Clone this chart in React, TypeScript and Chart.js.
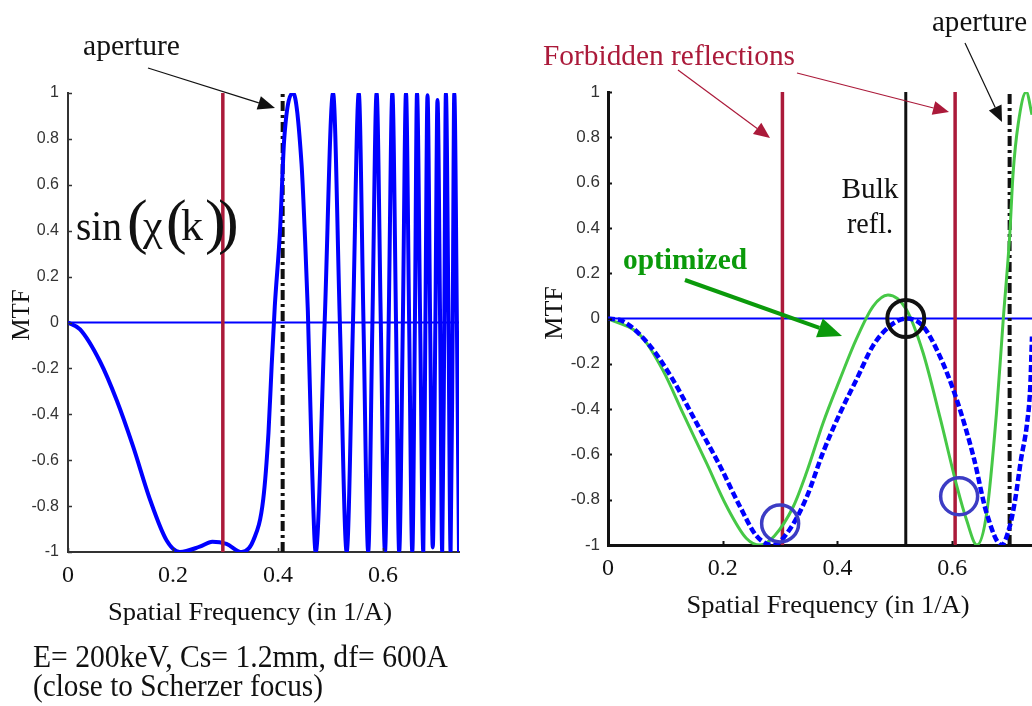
import React, { useEffect, useRef } from "react";
import { Chart, registerables } from "chart.js";

Chart.register(...registerables);

const SERIF = '"Liberation Serif", "Times New Roman", serif';
const SANS = '"Liberation Sans", Arial, sans-serif';

// Axis ticks
const freqTicks = [0, 0.2, 0.4, 0.6];
const freqTickLabels = ["0", "0.2", "0.4", "0.6"];
const mtfTicks = [-1, -0.8, -0.6, -0.4, -0.2, 0, 0.2, 0.4, 0.6, 0.8, 1];
const mtfTickLabels = ["-1", "-0.8", "-0.6", "-0.4", "-0.2", "0", "0.2", "0.4", "0.6", "0.8", "1"];

// Left panel: sin(chi(k)) close to Scherzer focus
const scherzerFreq = [
  0, 0.023, 0.061, 0.093, 0.124, 0.156, 0.188, 0.213, 0.251, 0.275, 0.302, 0.331,
  0.353, 0.372, 0.382, 0.388, 0.394, 0.404, 0.412, 0.429, 0.445, 0.451, 0.457, 0.464,
  0.472, 0.489, 0.505, 0.518, 0.531, 0.543, 0.554, 0.563, 0.572, 0.58, 0.588, 0.596,
  0.604, 0.611, 0.618, 0.625, 0.631, 0.638, 0.644, 0.65, 0.656, 0.661, 0.665, 0.671,
  0.677, 0.681, 0.685, 0.69, 0.695, 0.7, 0.704, 0.709, 0.713, 0.717, 0.72, 0.725,
  0.729, 0.733, 0.736, 0.741, 0.745,
];
const scherzerMtf = [
  0, -0.03, -0.17, -0.34, -0.54, -0.77, -0.95, -1.0, -0.977, -0.955, -0.965, -1.0,
  -0.95, -0.77, -0.48, -0.19, 0.07, 0.4, 0.8, 1.0, 0.69, 0.4, 0.05, -0.55,
  -1.0, 0, 1.0, 0, -1.0, 0, 1.0, 0, -1.0, 0, 1.0, 0,
  -1.0, 0, 1.0, 0, -1.0, 0, 1.0, 0, -1.0, 0, 1.0, 0,
  -1.0, 0, 0.99, 0, -0.98, 0, 0.97, 0, -1.0, 0, 1.0, 0,
  -1.0, 0, 1.0, 0, -1.0,
];
const scherzerForbidden = [0.295];
const scherzerAperture = [0.409];

// Right panel: default vs optimized transfer function
const defaultFreq = [
  0, 0.026, 0.073, 0.113, 0.154, 0.195, 0.23, 0.259, 0.288, 0.317, 0.346, 0.375,
  0.404, 0.433, 0.462, 0.491, 0.52, 0.549, 0.579, 0.608, 0.637, 0.66, 0.686, 0.7,
  0.709, 0.72, 0.73, 0.736, 0.739,
];
const defaultMtf = [
  0, -0.012, -0.12, -0.27, -0.46, -0.65, -0.83, -0.96, -1.0, -0.93, -0.79, -0.59,
  -0.42, -0.27, -0.12, -0.034, 0, -0.034, -0.17, -0.36, -0.61, -0.86, -1.0, -0.92,
  -0.81, -0.62, -0.47, -0.3, -0.08,
];
const optimizedFreq = [
  0, 0.058, 0.096, 0.131, 0.172, 0.207, 0.241, 0.265, 0.29, 0.323, 0.346, 0.375,
  0.404, 0.433, 0.462, 0.488, 0.52, 0.549, 0.579, 0.608, 0.625, 0.643, 0.66, 0.677,
  0.689, 0.7, 0.706, 0.715, 0.729, 0.739,
];
const optimizedMtf = [
  0, -0.078, -0.23, -0.42, -0.64, -0.83, -0.97, -1.0, -0.96, -0.83, -0.68, -0.46,
  -0.27, -0.09, 0.054, 0.104, 0.04, -0.15, -0.44, -0.74, -0.89, -1.0, -0.86, -0.42,
  0, 0.36, 0.64, 0.86, 1.0, 0.9,
];
const forbiddenFreq = [0.304, 0.605];
const bulkFreq = [0.519];
const apertureFreq = [0.7];
const markedFreq = [0.3, 0.612];
const markedMtf = [-0.905, -0.785];

const RED = "#ab1a3a";
const BLUE = "#0000ff";
const GREEN = "#46c846";
const DARK_GREEN = "#0b9a0b";
const RING_BLUE = "#3c3cc4";

const pts = (xs: number[], ys: number[]) => xs.map((x, i) => ({ x, y: ys[i] }));
const vline = (x: number) => [
  { x, y: -1 },
  { x, y: 1 },
];

type Ctx = CanvasRenderingContext2D;

function text(
  ctx: Ctx,
  s: string,
  x: number,
  y: number,
  size: number,
  color: string,
  opts: { width?: number; align?: "left" | "center"; bold?: boolean; family?: string } = {}
) {
  ctx.save();
  ctx.font = `${opts.bold ? "bold " : ""}${size}px ${opts.family || SERIF}`;
  ctx.fillStyle = color;
  ctx.textBaseline = "alphabetic";
  ctx.textAlign = "left";
  const w = ctx.measureText(s).width;
  const sx = opts.width ? opts.width / w : 1;
  const drawW = w * sx;
  const x0 = opts.align === "center" ? x - drawW / 2 : x;
  ctx.translate(x0, y);
  ctx.scale(sx, 1);
  ctx.fillText(s, 0, 0);
  ctx.restore();
}

function vtext(ctx: Ctx, s: string, cx: number, cy: number, size: number) {
  ctx.save();
  ctx.font = `${size}px ${SERIF}`;
  ctx.fillStyle = "#111";
  ctx.textAlign = "center";
  ctx.textBaseline = "middle";
  ctx.translate(cx, cy);
  ctx.rotate(-Math.PI / 2);
  ctx.fillText(s, 0, 0);
  ctx.restore();
}

function arrow(
  ctx: Ctx,
  x1: number,
  y1: number,
  x2: number,
  y2: number,
  color: string,
  width: number,
  headLen: number,
  headHalf: number
) {
  const a = Math.atan2(y2 - y1, x2 - x1);
  const bx = x2 - headLen * Math.cos(a);
  const by = y2 - headLen * Math.sin(a);
  ctx.save();
  ctx.strokeStyle = color;
  ctx.fillStyle = color;
  ctx.lineWidth = width;
  ctx.beginPath();
  ctx.moveTo(x1, y1);
  ctx.lineTo(bx, by);
  ctx.stroke();
  ctx.beginPath();
  ctx.moveTo(x2, y2);
  ctx.lineTo(bx + headHalf * Math.sin(a), by - headHalf * Math.cos(a));
  ctx.lineTo(bx - headHalf * Math.sin(a), by + headHalf * Math.cos(a));
  ctx.closePath();
  ctx.fill();
  ctx.restore();
}

// Short tick marks pointing into the plot area
function innerTicks(chart: any, len: number, color: string, width: number) {
  const { ctx, chartArea } = chart;
  const xs = chart.scales.x;
  const ys = chart.scales.y;
  ctx.save();
  ctx.strokeStyle = color;
  ctx.lineWidth = width;
  ctx.beginPath();
  mtfTicks.forEach((v) => {
    const p = Math.round(ys.getPixelForValue(v)) + 0.5;
    ctx.moveTo(chartArea.left, p);
    ctx.lineTo(chartArea.left + len, p);
  });
  freqTicks.forEach((v) => {
    const p = Math.round(xs.getPixelForValue(v)) + 0.5;
    ctx.moveTo(p, chartArea.bottom);
    ctx.lineTo(p, chartArea.bottom - len);
  });
  ctx.stroke();
  ctx.restore();
}

interface AxisSpec {
  xMax: number;
  yWidth: number;
  xHeight: number;
  top: number;
  right: number;
  borderWidth: number;
  borderColor: string;
  yTickSize: number;
  yTickPad: number;
  xTickPad: number;
}

function buildOptions(a: AxisSpec) {
  return {
    responsive: false,
    animation: false as const,
    devicePixelRatio: 1,
    layout: { autoPadding: false, padding: { left: 0, right: a.right, top: a.top, bottom: 0 } },
    plugins: {
      legend: { display: false },
      tooltip: { enabled: false },
    },
    elements: { point: { radius: 0 } },
    scales: {
      x: {
        type: "linear" as const,
        min: 0,
        max: a.xMax,
        afterFit: (s: any) => {
          s.height = a.xHeight;
        },
        afterBuildTicks: (s: any) => {
          s.ticks = freqTicks.map((value) => ({ value }));
        },
        ticks: {
          autoSkip: false,
          maxRotation: 0,
          padding: a.xTickPad,
          color: "#111",
          font: { family: SERIF, size: 24 },
          callback: (v: any) => freqTickLabels[freqTicks.indexOf(Number(v))] ?? "",
        },
        grid: { display: false, drawTicks: false },
        border: { display: true, color: a.borderColor, width: a.borderWidth },
      },
      y: {
        type: "linear" as const,
        min: -1,
        max: 1,
        afterFit: (s: any) => {
          s.width = a.yWidth;
        },
        afterBuildTicks: (s: any) => {
          s.ticks = mtfTicks.map((value) => ({ value }));
        },
        ticks: {
          autoSkip: false,
          padding: a.yTickPad,
          color: "#333",
          font: { family: SANS, size: a.yTickSize },
          callback: (v: any) => {
            const i = mtfTicks.findIndex((t) => Math.abs(t - Number(v)) < 1e-6);
            return i >= 0 ? mtfTickLabels[i] : "";
          },
        },
        grid: { display: false, drawTicks: false },
        border: { display: true, color: a.borderColor, width: a.borderWidth },
      },
    },
  };
}

// Left panel annotations
function drawLeftOverlay(chart: any) {
  const ctx: Ctx = chart.ctx;
  innerTicks(chart, 4, "#333", 1.5);
  text(ctx, "aperture", 83, 55, 29, "#111", { width: 97 });
  arrow(ctx, 148, 68, 275, 108, "#111", 1.2, 17, 7);
  // sin(chi(k)) label with enlarged parentheses
  text(ctx, "sin", 76, 240, 42, "#111", { width: 46 });
  text(ctx, "\u03c7", 143, 240, 44, "#111");
  text(ctx, "k", 181, 240, 44, "#111");
  ctx.save();
  ctx.fillStyle = "#111";
  ctx.textBaseline = "alphabetic";
  ctx.font = `62px ${SERIF}`;
  ctx.fillText("(", 127, 242);
  ctx.fillText("(", 166, 242);
  ctx.fillText(")", 205, 242);
  ctx.fillText(")", 218, 242);
  ctx.restore();
  vtext(ctx, "MTF", 22, 315, 25);
  text(ctx, "Spatial Frequency (in 1/A)", 250, 620, 26, "#111", { width: 284, align: "center" });
  text(ctx, "E= 200keV, Cs= 1.2mm, df= 600A", 33, 667, 31, "#111", { width: 415 });
  text(ctx, "(close to Scherzer focus)", 33, 696, 31, "#111", { width: 290 });
}

// Right panel annotations
function drawRightOverlay(chart: any) {
  const ctx: Ctx = chart.ctx;
  innerTicks(chart, 4, "#111", 2);
  text(ctx, "Forbidden reflections", 23, 65, 29, RED, { width: 252 });
  arrow(ctx, 158, 70, 250, 138, RED, 1.2, 16, 7);
  arrow(ctx, 277, 73, 429, 112, RED, 1.2, 16, 7);
  text(ctx, "aperture", 412, 31, 29, "#111", { width: 95 });
  arrow(ctx, 445, 43, 482, 122, "#111", 1.2, 16, 7);
  text(ctx, "Bulk", 350, 198, 29, "#111", { width: 57, align: "center" });
  text(ctx, "refl.", 350, 233, 29, "#111", { width: 46, align: "center" });
  text(ctx, "optimized", 103, 269, 29, DARK_GREEN, { width: 124, bold: true });
  arrow(ctx, 165, 280, 322, 336, DARK_GREEN, 4, 24, 10);
  vtext(ctx, "MTF", 35, 313, 26);
  text(ctx, "Spatial Frequency (in 1/A)", 308, 613, 26, "#111", { width: 283, align: "center" });
}

function leftConfig(): any {
  const xMax = 0.745;
  return {
    type: "line",
    data: {
      datasets: [
        {
          data: vline(scherzerForbidden[0]),
          borderColor: RED,
          borderWidth: 3.5,
        },
        {
          data: pts(scherzerFreq, scherzerMtf),
          borderColor: BLUE,
          borderWidth: 4,
          cubicInterpolationMode: "monotone",
        },
        {
          data: vline(scherzerAperture[0]),
          borderColor: "#111",
          borderWidth: 4,
          borderDash: [10, 4, 3, 4],
        },
        {
          data: [
            { x: 0, y: 0 },
            { x: xMax, y: 0 },
          ],
          borderColor: BLUE,
          borderWidth: 2,
        },
      ],
    },
    options: buildOptions({
      xMax,
      yWidth: 68,
      xHeight: 706 - 552,
      top: 93,
      right: 520 - 459,
      borderWidth: 2,
      borderColor: "#333",
      yTickSize: 16,
      yTickPad: 9,
      xTickPad: 9,
    }),
    plugins: [{ id: "leftOverlay", afterDraw: drawLeftOverlay }],
  };
}

function rightConfig(): any {
  const xMax = 0.739;
  return {
    type: "line",
    data: {
      datasets: [
        {
          type: "scatter",
          data: [{ x: bulkFreq[0], y: 0 }],
          pointRadius: 18.5,
          pointBorderWidth: 4,
          pointBorderColor: "#111",
          pointBackgroundColor: "rgba(0,0,0,0)",
          showLine: false,
        },
        {
          type: "scatter",
          data: pts(markedFreq, markedMtf),
          pointRadius: 18.5,
          pointBorderWidth: 3.5,
          pointBorderColor: RING_BLUE,
          pointBackgroundColor: "rgba(0,0,0,0)",
          showLine: false,
        },
        {
          data: vline(bulkFreq[0]),
          borderColor: "#111",
          borderWidth: 3,
        },
        {
          data: pts(defaultFreq, defaultMtf),
          borderColor: BLUE,
          borderWidth: 4.5,
          borderDash: [7, 3],
          cubicInterpolationMode: "monotone",
        },
        {
          data: pts(optimizedFreq, optimizedMtf),
          borderColor: GREEN,
          borderWidth: 3,
          cubicInterpolationMode: "monotone",
        },
        ...forbiddenFreq.map((f) => ({
          data: vline(f),
          borderColor: RED,
          borderWidth: 3.5,
        })),
        {
          data: vline(apertureFreq[0]),
          borderColor: "#111",
          borderWidth: 4,
          borderDash: [10, 4, 3, 4],
        },
        {
          data: [
            { x: 0, y: 0 },
            { x: xMax, y: 0 },
          ],
          borderColor: BLUE,
          borderWidth: 2,
        },
      ],
    },
    options: buildOptions({
      xMax,
      yWidth: 88,
      xHeight: 706 - 545,
      top: 92,
      right: 0,
      borderWidth: 3,
      borderColor: "#111",
      yTickSize: 17,
      yTickPad: 8,
      xTickPad: 9,
    }),
    plugins: [{ id: "rightOverlay", afterDraw: drawRightOverlay }],
  };
}

function Panel({ left, width, build }: { left: number; width: number; build: () => any }) {
  const ref = useRef<HTMLCanvasElement>(null);
  useEffect(() => {
    const chart = new Chart(ref.current as HTMLCanvasElement, build());
    return () => chart.destroy();
  }, [build]);
  return (
    <canvas
      ref={ref}
      width={width}
      height={706}
      style={{ position: "absolute", left, top: 0, width, height: 706, display: "block" }}
    />
  );
}

export default function App() {
  return (
    <div
      style={{
        position: "fixed",
        left: 0,
        top: 0,
        width: 1032,
        height: 706,
        overflow: "hidden",
        background: "#ffffff",
      }}
    >
      <Panel left={0} width={520} build={leftConfig} />
      <Panel left={520} width={512} build={rightConfig} />
    </div>
  );
}
